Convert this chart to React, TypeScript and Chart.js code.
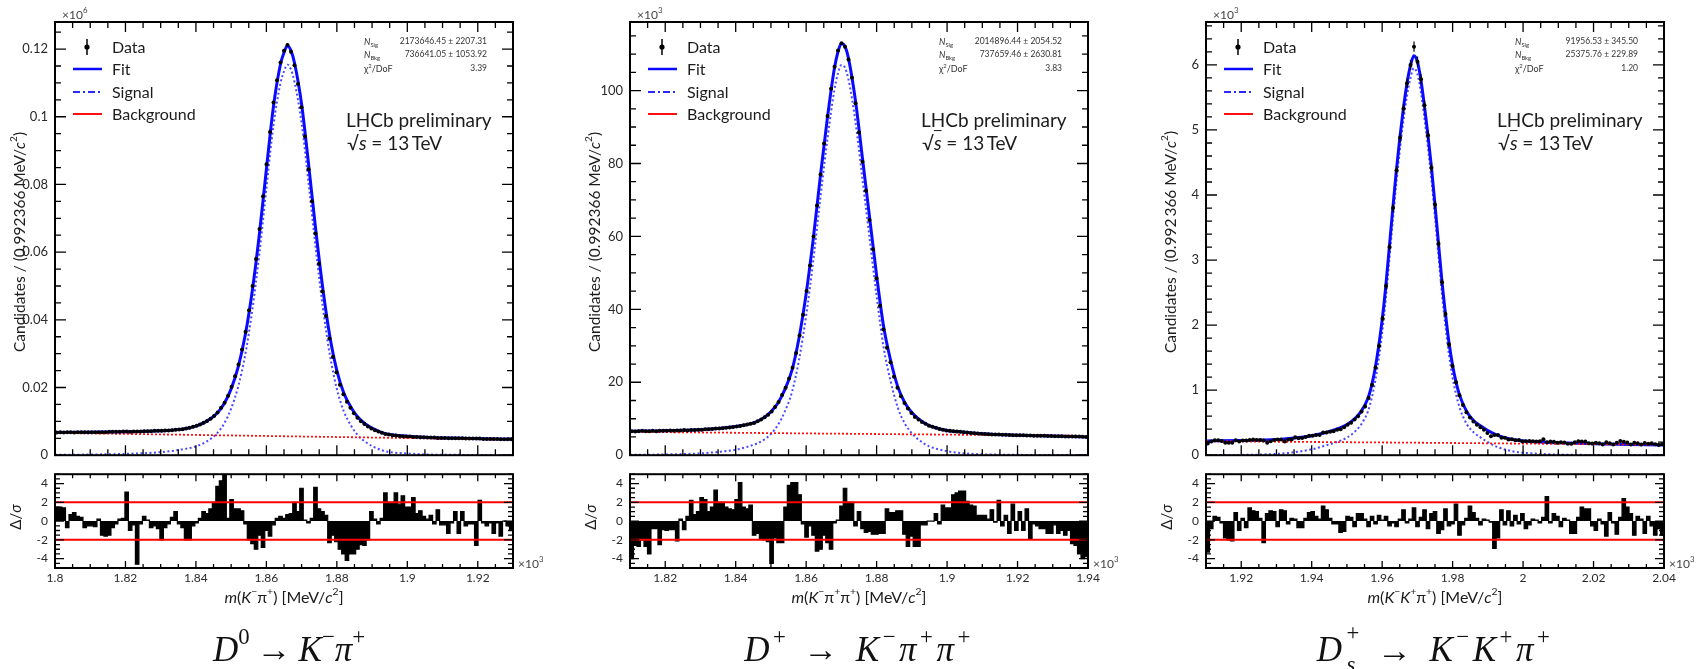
import React, { useEffect, useRef } from "react";
import { Chart, registerables } from "chart.js";

Chart.register(...registerables);

/* ====================== DATA ====================== */
const BIN_WIDTH = 0.992366; // MeV per bin
const PULL_LINES = [-2, 2];
const PULL_TICKS = [-4, -2, 0, 2, 4];
const PULL_RANGE = [-5, 5];

// ---- D0 -> K- pi+ ----
const D0_X_RANGE = [1800, 1930];
const D0_X_TICKS = [1800, 1820, 1840, 1860, 1880, 1900, 1920];
const D0_Y_TICKS = [0, 0.02, 0.04, 0.06, 0.08, 0.1, 0.12];
const D0_Y_MAX = 0.128;
const D0_DATA = [
  0.0067, 0.0068, 0.0067, 0.0068, 0.0068, 0.0067, 0.0068, 0.0068, 0.0068, 0.0068,
  0.0068, 0.0068, 0.0068, 0.0068, 0.0068, 0.0069, 0.0069, 0.0069, 0.0069, 0.007,
  0.007, 0.0069, 0.007, 0.007, 0.007, 0.0071, 0.0071, 0.0071, 0.0072, 0.0072,
  0.0072, 0.0073, 0.0073, 0.0074, 0.0075, 0.0076, 0.0077, 0.0079, 0.0081, 0.0084,
  0.0087, 0.0091, 0.0096, 0.0101, 0.0108, 0.0116, 0.0126, 0.014, 0.0155, 0.0176,
  0.0202, 0.0233, 0.0268, 0.0312, 0.0365, 0.0428, 0.05, 0.058, 0.0668, 0.0765,
  0.086, 0.0955, 0.1042, 0.1108, 0.116, 0.1195, 0.1212, 0.1192, 0.1152, 0.1097,
  0.1028, 0.0942, 0.0845, 0.075, 0.0655, 0.0566, 0.0484, 0.0411, 0.0345, 0.029,
  0.0245, 0.0208, 0.018, 0.0158, 0.014, 0.0124, 0.0111, 0.01, 0.0092, 0.0085,
  0.0079, 0.0074, 0.007, 0.0066, 0.0063, 0.0061, 0.0059, 0.0058, 0.0057, 0.0056,
  0.0055, 0.0055, 0.0054, 0.0054, 0.0053, 0.0053, 0.0052, 0.0052, 0.0052, 0.0051,
  0.0051, 0.0051, 0.005, 0.005, 0.005, 0.005, 0.005, 0.0049, 0.0049, 0.0049,
  0.0049, 0.0049, 0.0048, 0.0048, 0.0048, 0.0048, 0.0048, 0.0047, 0.0047, 0.0047, 0.0047,
];
const D0_CURVE_X = [
  1800, 1810, 1820, 1830, 1836, 1840, 1843, 1846, 1848, 1850,
  1852, 1854, 1856, 1858, 1860, 1862, 1864, 1865, 1866, 1867,
  1868, 1870, 1872, 1874, 1876, 1878, 1880, 1882, 1884, 1886,
  1888, 1890, 1893, 1896, 1900, 1906, 1915, 1930,
];
const D0_FIT_Y = [
  0.0067, 0.0068, 0.0069, 0.0072, 0.0077, 0.0086, 0.01, 0.0124, 0.0152, 0.0196,
  0.0261, 0.0355, 0.0486, 0.0652, 0.0845, 0.103, 0.1155, 0.119, 0.121, 0.1195,
  0.1158, 0.1037, 0.0858, 0.0667, 0.0494, 0.0352, 0.025, 0.0183, 0.0142, 0.0112,
  0.0093, 0.008, 0.0066, 0.006, 0.0056, 0.0052, 0.005, 0.0047,
];
const D0_SIG_Y = [
  0.0001, 0.0002, 0.0004, 0.0009, 0.0017, 0.0026, 0.004, 0.0065, 0.0093, 0.0138,
  0.0203, 0.0297, 0.0429, 0.0595, 0.0788, 0.0974, 0.1099, 0.1134, 0.1154, 0.1139,
  0.1102, 0.0981, 0.0802, 0.0612, 0.0439, 0.0297, 0.0196, 0.0129, 0.0088, 0.0058,
  0.004, 0.0027, 0.0014, 0.0008, 0.0005, 0.0002, 0.0001, 0.0,
];
const D0_BKG_X = [1800, 1865, 1930];
const D0_BKG_Y = [0.0066, 0.0056, 0.0046];
const D0_PULLS = [
  1.5, 1.5, 1.4, -0.7, 0.7, 0.9, 0.5, 0.4, -0.7, -0.5,
  -0.5, -0.6, 0.2, -1.5, -1.6, -1.5, -0.7, -0.3, 0.2, 0.3,
  3.1, -1.0, -0.4, -4.6, -0.3, 0.5, 0.1, -0.7, -0.5, -0.8,
  -2.0, -0.7, -0.3, 0.4, 1.0, -0.3, -0.7, -2.0, -2.0, -0.5,
  -0.2, 0.3, 1.0, 0.8, 1.3, 2.0, 3.7, 4.3, 5.0, 0.3,
  2.3, 1.3, 1.3, 1.1, -0.3, -2.0, -2.4, -3.0, -1.5, -2.8,
  -1.0, -1.6, -0.4, 0.3, 0.5, 0.3, 0.7, 0.8, 2.0, 1.0,
  3.5, 0.1, -0.2, 0.3, 3.6, 1.3, 1.0, 0.6, -2.3, -1.5,
  -2.2, -3.0, -3.5, -4.2, -3.5, -3.5, -3.0, -2.5, -2.6, -2.0,
  1.0, 0.2, -0.3, 0.3, 3.0, 2.0, 2.0, 3.0, 1.8, 2.7,
  1.5, 1.5, 2.5, 0.8, 1.1, 0.5, 0.2, 0.6, -0.3, 1.2,
  -0.4, -0.4, -1.3, -0.2, 1.0, -1.3, 1.0, -0.5, -0.3, -0.3,
  -2.6, 2.2, -0.2, -0.5, -0.2, -1.3, -0.2, -1.6, 0.0, -0.5, -1.0,
];
const D0_STATS = ["2173646.45 \u00b1 2207.31", "736641.05 \u00b1 1053.92", "3.39"];

// ---- D+ -> K- pi+ pi+ ----
const DP_X_RANGE = [1810, 1940];
const DP_X_TICKS = [1820, 1840, 1860, 1880, 1900, 1920, 1940];
const DP_Y_TICKS = [0, 20, 40, 60, 80, 100];
const DP_Y_MAX = 118.8;
const DP_DATA = [
  6.6, 6.5, 6.6, 6.7, 6.6, 6.6, 6.7, 6.6, 6.7, 6.7,
  6.7, 6.8, 6.7, 6.8, 6.8, 6.9, 6.8, 6.9, 6.9, 7.0,
  7.0, 7.1, 7.1, 7.2, 7.3, 7.3, 7.4, 7.5, 7.6, 7.7,
  7.9, 8.0, 8.2, 8.4, 8.6, 8.8, 9.3, 9.8, 10.4, 11.1,
  12.0, 13.2, 14.6, 16.5, 18.5, 21.0, 24.0, 28.0, 32.8, 38.5,
  45.0, 52.0, 60.0, 68.5, 77.0, 85.5, 93.0, 100.5, 106.5, 111.0,
  113.0, 112.0, 108.5, 103.5, 96.5, 88.5, 80.5, 72.5, 64.5, 56.5,
  48.5, 41.0, 34.5, 29.5, 25.5, 21.5, 18.5, 16.2, 14.3, 12.8,
  11.6, 10.5, 9.8, 9.1, 8.6, 8.1, 7.8, 7.5, 7.2, 7.0,
  6.8, 6.7, 6.6, 6.5, 6.4, 6.3, 6.2, 6.1, 6.0, 5.95,
  5.9, 5.8, 5.75, 5.7, 5.7, 5.65, 5.6, 5.6, 5.55, 5.5,
  5.5, 5.45, 5.45, 5.4, 5.4, 5.35, 5.35, 5.3, 5.3, 5.25,
  5.25, 5.2, 5.2, 5.2, 5.15, 5.15, 5.1, 5.1, 5.1, 5.05, 5.0,
];
const DP_FIT_X = [
  1810, 1820, 1830, 1835, 1840, 1843, 1846, 1848, 1850, 1852,
  1854, 1856, 1858, 1860, 1862, 1864, 1866, 1868, 1869, 1870,
  1871, 1872, 1874, 1876, 1878, 1880, 1882, 1884, 1886, 1888,
  1890, 1892, 1895, 1900, 1905, 1910, 1920, 1930, 1940,
];
const DP_FIT_Y = [
  6.6, 6.7, 7.0, 7.3, 7.85, 8.35, 9.2, 10.3, 11.9, 14.3,
  18.1, 23.4, 32.3, 44.3, 59.2, 76.2, 92.3, 106.0, 110.5, 112.9,
  112.1, 108.9, 97.2, 81.3, 65.3, 49.3, 35.2, 25.9, 18.8, 14.4,
  11.7, 9.9, 8.1, 6.8, 6.3, 5.9, 5.5, 5.25, 5.0,
];
const DP_SIG_X = [
  1810, 1820, 1830, 1835, 1840, 1843, 1846, 1848, 1850, 1852,
  1854, 1856, 1858, 1860, 1862, 1864, 1866, 1868, 1869, 1870,
  1871, 1872, 1874, 1876, 1878, 1880, 1882, 1884, 1886, 1888,
  1890, 1892, 1895, 1900, 1905, 1910, 1920, 1940,
];
const DP_SIG_Y = [
  0.1, 0.2, 0.5, 0.9, 1.5, 2.2, 3.2, 4.2, 5.8, 8.3,
  12.1, 17.4, 26.3, 38.3, 53.2, 70.2, 86.4, 100.1, 104.6, 107.0,
  106.3, 103.1, 91.4, 75.5, 59.5, 43.6, 29.5, 20.2, 13.1, 8.7,
  6.0, 4.2, 2.4, 1.1, 0.5, 0.25, 0.1, 0.0,
];
const DP_BKG_X = [1810, 1875, 1940];
const DP_BKG_Y = [6.4, 5.85, 5.3];
const DP_PULLS = [
  -4.0, -2.6, -2.7, -2.0, -2.7, -3.5, -0.8, -0.8, -2.5, -0.9,
  -1.0, -0.9, -0.9, -2.1, 0.2, -0.9, 0.5, 2.2, 0.7, 1.0,
  2.5, 2.3, 1.0, 1.5, 3.3, 2.0, 2.0, 1.5, 1.3, 1.2,
  2.3, 4.1, 1.5, 1.3, 1.7, -1.5, -1.3, -1.9, -2.0, -2.2,
  -4.5, -1.8, -2.3, -2.3, 1.5, 3.8, 4.1, 4.1, 2.8, -0.3,
  -1.7, -0.5, -1.5, -3.2, -3.0, -1.5, -2.3, -3.0, -0.2, 0.1,
  1.6, 3.5, 2.0, 2.0, -0.5, 1.0, -0.8, -1.2, -1.1, -1.4,
  -1.4, -1.3, -1.3, 1.3, 0.9, 0.9, 1.1, 1.1, -1.4, -2.7,
  -1.6, -2.7, -2.7, -0.4, -0.4, 0.0, 0.0, 0.8, -0.3, 1.7,
  1.4, 1.4, 2.8, 3.0, 3.2, 3.2, 2.1, 1.7, 1.6, 0.6,
  0.6, 0.6, 0.2, 1.2, -0.1, 2.2, -0.5, 0.6, -1.3, 1.8,
  -1.0, 1.0, -1.0, 1.3, -1.9, -0.3, -0.5, -0.8, -0.8, -1.3,
  -1.3, -0.4, -1.3, -1.0, -1.5, -1.0, -2.4, -2.6, -3.5, -4.0, -3.8,
];
const DP_STATS = ["2014896.44 \u00b1 2054.52", "737659.46 \u00b1 2630.81", "3.83"];

// ---- Ds+ -> K- K+ pi+ ----
const DS_X_RANGE = [1910, 2040];
const DS_X_TICKS = [1920, 1940, 1960, 1980, 2000, 2020, 2040];
const DS_Y_TICKS = [0, 1, 2, 3, 4, 5, 6];
const DS_Y_MAX = 6.66;
const DS_DATA = [
  0.18, 0.21, 0.23, 0.23, 0.22, 0.19, 0.19, 0.19, 0.23, 0.21,
  0.225, 0.225, 0.235, 0.24, 0.235, 0.235, 0.225, 0.19, 0.215, 0.235,
  0.24, 0.24, 0.21, 0.24, 0.24, 0.275, 0.26, 0.265, 0.28, 0.3,
  0.3, 0.31, 0.31, 0.35, 0.35, 0.36, 0.37, 0.39, 0.4, 0.43,
  0.47, 0.5, 0.55, 0.6, 0.67, 0.75, 0.88, 1.08, 1.35, 1.68,
  2.1, 2.6, 3.2, 3.8, 4.38, 4.88, 5.33, 5.72, 6.0, 6.28,
  6.05, 5.78, 5.38, 4.92, 4.42, 3.85, 3.25, 2.66, 2.17, 1.7,
  1.37, 1.12, 0.92, 0.77, 0.66, 0.58, 0.52, 0.47, 0.43, 0.39,
  0.34, 0.29, 0.31, 0.31, 0.27, 0.27, 0.24, 0.245, 0.23, 0.235,
  0.21, 0.215, 0.22, 0.215, 0.21, 0.215, 0.245, 0.2, 0.21, 0.205,
  0.19, 0.2, 0.195, 0.175, 0.175, 0.2, 0.215, 0.21, 0.21, 0.185,
  0.178, 0.19, 0.182, 0.165, 0.198, 0.183, 0.165, 0.19, 0.22, 0.205,
  0.195, 0.163, 0.19, 0.185, 0.165, 0.187, 0.175, 0.183, 0.168, 0.158, 0.168,
];
const DS_FIT_X = [
  1910, 1920, 1930, 1935, 1940, 1944, 1948, 1950, 1952, 1954,
  1956, 1957, 1958, 1959, 1960, 1961, 1962, 1963, 1964, 1965,
  1966, 1967, 1968, 1969, 1970, 1971, 1972, 1973, 1974, 1975,
  1976, 1977, 1978, 1979, 1980, 1981, 1982, 1984, 1986, 1988,
  1990, 1993, 1997, 2002, 2010, 2020, 2030, 2040,
];
const DS_FIT_Y = [
  0.22, 0.225, 0.24, 0.265, 0.3, 0.35, 0.42, 0.47, 0.55, 0.67,
  0.88, 1.07, 1.33, 1.67, 2.08, 2.58, 3.18, 3.78, 4.36, 4.87,
  5.32, 5.7, 5.98, 6.14, 6.05, 5.77, 5.37, 4.92, 4.42, 3.85,
  3.25, 2.66, 2.16, 1.72, 1.38, 1.12, 0.92, 0.67, 0.53, 0.45,
  0.38, 0.3, 0.24, 0.21, 0.19, 0.175, 0.165, 0.155,
];
const DS_SIG_X = [
  1910, 1930, 1940, 1944, 1948, 1950, 1952, 1954, 1956, 1957,
  1958, 1959, 1960, 1961, 1962, 1963, 1964, 1965, 1966, 1967,
  1968, 1969, 1970, 1971, 1972, 1973, 1974, 1975, 1976, 1977,
  1978, 1979, 1980, 1981, 1982, 1984, 1986, 1988, 1990, 1993,
  1997, 2002, 2010, 2040,
];
const DS_SIG_Y = [
  0.0, 0.02, 0.09, 0.15, 0.22, 0.27, 0.35, 0.47, 0.68, 0.87,
  1.13, 1.47, 1.88, 2.38, 2.98, 3.59, 4.17, 4.68, 5.13, 5.51,
  5.79, 5.95, 5.86, 5.58, 5.18, 4.73, 4.23, 3.66, 3.06, 2.47,
  1.97, 1.53, 1.19, 0.93, 0.73, 0.48, 0.35, 0.27, 0.2, 0.12,
  0.06, 0.03, 0.01, 0.0,
];
const DS_BKG_X = [1910, 1975, 2040];
const DS_BKG_Y = [0.215, 0.19, 0.16];
const DS_PULLS = [
  -3.3, -0.8, 0.5, 0.4, -0.2, -1.8, -2.0, -2.1, 0.9, -1.0,
  0.3, -0.7, 1.4, 1.1, 1.0, 0.3, -2.3, 0.8, 1.1, 1.0,
  -0.6, 1.2, 1.1, -0.3, 0.3, 0.2, -0.7, -0.7, 0.3, 0.9,
  1.0, 0.5, 0.2, 1.6, 1.2, 0.3, -0.3, -0.3, -1.2, -1.1,
  0.5, 0.4, -0.6, 0.8, 0.8, 0.2, -0.6, 0.5, -0.3, 0.6,
  0.1, 0.5, -0.5, -0.2, -0.6, 0.2, 1.2, -0.2, 0.2, 1.4,
  -0.6, 0.4, 1.2, -0.8, 0.8, 1.0, -1.3, -0.9, 1.3, -0.5,
  -0.3, 1.8, -1.5, -0.4, 0.3, 1.6, 0.9, 0.3, -0.4, 0.2,
  0.1, -0.1, -2.9, -1.8, 1.2, -0.4, 1.1, -0.5, 0.6, -0.3,
  0.8, -0.8, -0.4, 0.2, 0.1, -0.2, 0.4, 2.6, -0.2, 0.8,
  0.5, -0.6, 0.3, 0.1, -1.3, -1.3, 0.4, 1.5, 1.3, 1.3,
  -0.5, -1.0, 0.2, -0.3, -1.6, 0.9, -0.2, -1.4, 0.4, 2.4,
  1.5, 0.8, -1.5, 0.5, 0.2, -1.3, 0.5, -0.5, -1.5, -0.8, -1.5,
];
const DS_STATS = ["91956.53 \u00b1 345.50", "25375.76 \u00b1 229.89", "1.20"];

/* ====================== LAYOUT / STYLE ====================== */
const PANEL_W = 458;
const Y_AX_W = 60;
const PAD_R = 24;
const MAIN_PAD_TOP = 22;
const MAIN_CANVAS_H = 470;
const MAIN_PAD_BOTTOM = 14;
const RES_CANVAS_TOP = 460;
const RES_CANVAS_H = 135;
const RES_PAD_TOP = 7;
const RES_X_AX_H = 27;
const SANS = "Lato, 'Open Sans', 'DejaVu Sans', sans-serif";
const SERIF = "'Liberation Serif', 'DejaVu Serif', serif";
const TXT = "#1c1c1c";

const zip = (xs: number[], ys: number[]) => xs.map((x, i) => ({ x, y: ys[i] }));
const fmt = (v: number) => String(+Number(v).toFixed(4));

function makeFramePlugin(o: any) {
  return {
    id: "frameTicks",
    afterDatasetsDraw(chart: any) {
      const { ctx, chartArea: a, scales } = chart;
      const xs = scales.x;
      const ys = scales.y;
      const steps = (min: number, max: number, step: number) => {
        const out: number[] = [];
        const k0 = Math.ceil(min / step - 1e-9);
        for (let k = k0; k * step <= max + 1e-9; k++) out.push(k * step);
        return out;
      };
      ctx.save();
      ctx.strokeStyle = "#000";
      ctx.lineWidth = 1.3;
      ctx.beginPath();
      const vx = (v: number, len: number) => {
        const px = xs.getPixelForValue(v);
        ctx.moveTo(px, a.bottom);
        ctx.lineTo(px, a.bottom - len);
        ctx.moveTo(px, a.top);
        ctx.lineTo(px, a.top + len);
      };
      const hy = (v: number, len: number) => {
        const py = ys.getPixelForValue(v);
        ctx.moveTo(a.left, py);
        ctx.lineTo(a.left + len, py);
        ctx.moveTo(a.right, py);
        ctx.lineTo(a.right - len, py);
      };
      steps(xs.min, xs.max, o.xMinorStep).forEach((v) => vx(v, o.xMinorLen));
      o.xMajor.forEach((v: number) => vx(v, o.xMajorLen));
      steps(ys.min, ys.max, o.yMinorStep).forEach((v) => hy(v, o.yMinorLen));
      o.yMajor.forEach((v: number) => hy(v, o.yMajorLen));
      ctx.stroke();
      ctx.lineWidth = 2;
      ctx.strokeRect(a.left, a.top, a.right - a.left, a.bottom - a.top);
      ctx.restore();
    },
  };
}

const errorBarPlugin = {
  id: "errorBars",
  afterDatasetsDraw(chart: any) {
    const { ctx, chartArea: a } = chart;
    const ys = chart.scales.y;
    chart.data.datasets.forEach((ds: any, i: number) => {
      if (!ds.errUnit) return;
      const meta = chart.getDatasetMeta(i);
      ctx.save();
      ctx.beginPath();
      ctx.rect(a.left, a.top, a.right - a.left, a.bottom - a.top);
      ctx.clip();
      ctx.strokeStyle = "#000";
      ctx.lineWidth = 1.2;
      ctx.beginPath();
      meta.data.forEach((el: any, j: number) => {
        const v = ds.data[j].y;
        const e = Math.sqrt(v * ds.errUnit) / ds.errUnit;
        ctx.moveTo(el.x, ys.getPixelForValue(v + e));
        ctx.lineTo(el.x, ys.getPixelForValue(v - e));
      });
      ctx.stroke();
      ctx.restore();
    });
  },
};

function mainConfig(p: any): any {
  const dataPts = p.data.map((y: number, i: number) => ({ x: p.xRange[0] + (i + 0.5) * BIN_WIDTH, y }));
  return {
    type: "line",
    data: {
      datasets: [
        { label: "Data", data: dataPts, showLine: false, pointRadius: 2, pointHoverRadius: 2, pointBackgroundColor: "#000", pointBorderColor: "#000", pointBorderWidth: 0, order: 0, errUnit: p.unit },
        { label: "Background", data: zip(p.bkgX, p.bkgY), borderColor: "#ff1010", borderWidth: 1.8, borderDash: [2, 2], pointRadius: 0, order: 1 },
        { label: "Fit", data: zip(p.fitX, p.fitY), borderColor: "#0a0aff", borderWidth: 3, pointRadius: 0, cubicInterpolationMode: "monotone", order: 2 },
        { label: "Signal", data: zip(p.sigX, p.sigY), borderColor: "rgba(40,40,255,0.85)", borderWidth: 2, borderDash: [2, 2.5], pointRadius: 0, cubicInterpolationMode: "monotone", order: 3 },
      ],
    },
    options: {
      animation: false,
      responsive: false,
      events: [],
      layout: { padding: { left: 0, right: PAD_R, top: MAIN_PAD_TOP, bottom: MAIN_PAD_BOTTOM }, autoPadding: false },
      plugins: { legend: { display: false }, tooltip: { enabled: false } },
      scales: {
        x: { type: "linear", min: p.xRange[0], max: p.xRange[1], display: false },
        y: {
          type: "linear",
          min: 0,
          max: p.yMax,
          afterBuildTicks: (s: any) => { s.ticks = p.yTicks.map((v: number) => ({ value: v })); },
          afterFit: (s: any) => { s.width = Y_AX_W; },
          grid: { display: false, drawTicks: false },
          border: { display: false },
          ticks: { padding: 7, color: "#2a2a2a", font: { family: SANS, size: 13 }, callback: (v: number) => fmt(v) },
        },
      },
    },
    plugins: [errorBarPlugin, makeFramePlugin({ xMajor: p.xTicks, xMinorStep: 5, xMajorLen: 10, xMinorLen: 6, yMajor: p.yTicks, yMinorStep: p.yMinor, yMajorLen: 11, yMinorLen: 6 })],
  };
}

function resConfig(p: any): any {
  const steps = p.pulls.map((y: number, i: number) => ({ x: p.xRange[0] + i * BIN_WIDTH, y }));
  steps.push({ x: p.xRange[0] + p.pulls.length * BIN_WIDTH, y: p.pulls[p.pulls.length - 1] });
  const bands = PULL_LINES.map((v) => ({
    data: [{ x: p.xRange[0], y: v }, { x: p.xRange[1], y: v }],
    borderColor: "#ff0000", borderWidth: 2, pointRadius: 0, order: 0,
  }));
  return {
    type: "line",
    data: {
      datasets: [
        ...bands,
        { data: steps, stepped: "before", fill: "origin", backgroundColor: "#000", borderColor: "#000", borderWidth: 1.2, pointRadius: 0, order: 1 },
      ],
    },
    options: {
      animation: false,
      responsive: false,
      events: [],
      layout: { padding: { left: 0, right: PAD_R, top: RES_PAD_TOP, bottom: 0 }, autoPadding: false },
      plugins: { legend: { display: false }, tooltip: { enabled: false } },
      scales: {
        x: {
          type: "linear",
          min: p.xRange[0],
          max: p.xRange[1],
          afterBuildTicks: (s: any) => { s.ticks = p.xTicks.map((v: number) => ({ value: v })); },
          afterFit: (s: any) => { s.height = RES_X_AX_H; },
          grid: { display: false, drawTicks: false },
          border: { display: false },
          ticks: { padding: 3, autoSkip: false, maxRotation: 0, minRotation: 0, color: "#2a2a2a", font: { family: SANS, size: 12 }, callback: (v: number) => String(+(v / 1000).toFixed(3)) },
        },
        y: {
          type: "linear",
          min: PULL_RANGE[0],
          max: PULL_RANGE[1],
          afterBuildTicks: (s: any) => { s.ticks = PULL_TICKS.map((v) => ({ value: v })); },
          afterFit: (s: any) => { s.width = Y_AX_W; },
          grid: { display: false, drawTicks: false },
          border: { display: false },
          ticks: { padding: 7, color: "#2a2a2a", font: { family: SANS, size: 12 }, callback: (v: number) => fmt(v) },
        },
      },
    },
    plugins: [makeFramePlugin({ xMajor: p.xTicks, xMinorStep: 5, xMajorLen: 7, xMinorLen: 4, yMajor: PULL_TICKS, yMinorStep: 0.5, yMajorLen: 9, yMinorLen: 5 })],
  };
}

/* ====================== TEXT HELPERS ====================== */
const Sup = ({ children }: any) => (
  <span style={{ fontSize: "0.65em", position: "relative", top: "-0.75em" }}>{children}</span>
);
const Sub = ({ children }: any) => (
  <span style={{ fontSize: "0.65em", position: "relative", top: "0.4em" }}>{children}</span>
);

function Txt({ x, y, size, children, align = "left", family = SANS, rotate = false, color = TXT, style = {} }: any) {
  const tx = align === "left" ? "0" : align === "center" ? "-50%" : "-100%";
  return (
    <div
      style={{
        position: "absolute", left: x, top: y,
        transform: rotate ? "translate(-50%,-50%) rotate(-90deg)" : `translate(${tx},-50%)`,
        fontSize: size, fontFamily: family, whiteSpace: "nowrap", lineHeight: 1.15, color, ...style,
      }}
    >
      {children}
    </div>
  );
}

const LEGEND_ROWS = [47, 69, 92, 114];
const STAT_ROWS = [42, 55, 69];

function Panel({ p }: any) {
  const mainRef = useRef<HTMLCanvasElement>(null);
  const resRef = useRef<HTMLCanvasElement>(null);
  useEffect(() => {
    const c1 = new Chart(mainRef.current as any, mainConfig(p));
    const c2 = new Chart(resRef.current as any, resConfig(p));
    return () => { c1.destroy(); c2.destroy(); };
  }, [p]);
  const L = p.left;
  const R = p.left + PANEL_W;
  const cw = Y_AX_W + PANEL_W + PAD_R;
  return (
    <>
      <canvas ref={mainRef} width={cw} height={MAIN_CANVAS_H}
        style={{ position: "absolute", left: L - Y_AX_W, top: 0, width: cw, height: MAIN_CANVAS_H }} />
      <canvas ref={resRef} width={cw} height={RES_CANVAS_H}
        style={{ position: "absolute", left: L - Y_AX_W, top: RES_CANVAS_TOP, width: cw, height: RES_CANVAS_H }} />

      {/* exponent labels */}
      <Txt x={L + 7} y={15} size={12} color="#444">{"\u00d710"}<Sup>{p.exp}</Sup></Txt>
      <Txt x={R + 5} y={564} size={12} color="#444">{"\u00d710"}<Sup>3</Sup></Txt>

      {/* legend */}
      <svg width={40} height={100} style={{ position: "absolute", left: L + 15, top: 30 }}>
        <line x1={17} y1={LEGEND_ROWS[0] - 30 - 8} x2={17} y2={LEGEND_ROWS[0] - 30 + 8} stroke="#000" strokeWidth={1.5} />
        <circle cx={17} cy={LEGEND_ROWS[0] - 30} r={2.6} fill="#000" />
        <line x1={3} y1={LEGEND_ROWS[1] - 30} x2={32} y2={LEGEND_ROWS[1] - 30} stroke="#0a0aff" strokeWidth={2.5} />
        <line x1={3} y1={LEGEND_ROWS[2] - 30} x2={32} y2={LEGEND_ROWS[2] - 30} stroke="#2828ff" strokeWidth={2} strokeDasharray="7 3 2 3" />
        <line x1={3} y1={LEGEND_ROWS[3] - 30} x2={32} y2={LEGEND_ROWS[3] - 30} stroke="#ff1010" strokeWidth={2} />
      </svg>
      {["Data", "Fit", "Signal", "Background"].map((t, i) => (
        <Txt key={t} x={L + 57} y={LEGEND_ROWS[i]} size={16}>{t}</Txt>
      ))}

      {/* fit statistics */}
      <Txt x={R - 149} y={STAT_ROWS[0]} size={9} color="#333"><i>N</i><Sub>Sig</Sub></Txt>
      <Txt x={R - 149} y={STAT_ROWS[1]} size={9} color="#333"><i>N</i><Sub>Bkg</Sub></Txt>
      <Txt x={R - 149} y={STAT_ROWS[2]} size={9} color="#333">{"\u03c7"}<Sup>2</Sup>/DoF</Txt>
      {p.stats.map((s: string, i: number) => (
        <Txt key={i} x={R - 26} y={STAT_ROWS[i]} size={8.5} align="right" color="#333">{s}</Txt>
      ))}

      {/* LHCb label */}
      <Txt x={R - 167} y={120} size={19}>LHCb preliminary</Txt>
      <Txt x={R - 166} y={143} size={19}>
        {"\u221a"}<span style={{ textDecoration: "overline", fontStyle: "italic" }}>s</span>{" = 13\u2009TeV"}
      </Txt>

      {/* axis titles */}
      <Txt x={L - 35} y={242} size={15.5} rotate>
        {"Candidates / (" + p.binLabel + " MeV/"}<i>c</i><Sup>2</Sup>)
      </Txt>
      <Txt x={L - 39} y={517} size={15} rotate>
        {"\u0394/"}<i>{"\u03c3"}</i>
      </Txt>
      <Txt x={L + PANEL_W / 2} y={597} size={16} align="center">{p.xTitle}</Txt>

      {/* decay title */}
      <Txt x={L + PANEL_W / 2 + p.titleDx} y={650} size={35} align="center" family={SERIF} color="#111"
        style={{ letterSpacing: p.titleSpacing }}>{p.title}</Txt>
    </>
  );
}

const arrow = (m: string) => <span style={{ margin: `0 ${m}`, fontStyle: "normal" }}>{"\u2192"}</span>;

const PANELS = [
  {
    left: 55, xRange: D0_X_RANGE, xTicks: D0_X_TICKS, yTicks: D0_Y_TICKS, yMax: D0_Y_MAX, yMinor: 0.005, unit: 1e6, exp: "6",
    data: D0_DATA, fitX: D0_CURVE_X, fitY: D0_FIT_Y, sigX: D0_CURVE_X, sigY: D0_SIG_Y, bkgX: D0_BKG_X, bkgY: D0_BKG_Y, pulls: D0_PULLS,
    stats: D0_STATS, binLabel: "0.992366", titleDx: 5, titleSpacing: "0",
    xTitle: <><i>m</i>(<i>K</i><Sup>{"\u2212"}</Sup>{"\u03c0"}<Sup>+</Sup>) [MeV/<i>c</i><Sup>2</Sup>]</>,
    title: <><i>D</i><Sup>0</Sup>{arrow("0.2em")}<i>K</i><Sup>{"\u2212"}</Sup><i>{"\u03c0"}</i><Sup>+</Sup></>,
  },
  {
    left: 630, xRange: DP_X_RANGE, xTicks: DP_X_TICKS, yTicks: DP_Y_TICKS, yMax: DP_Y_MAX, yMinor: 5, unit: 1e3, exp: "3",
    data: DP_DATA, fitX: DP_FIT_X, fitY: DP_FIT_Y, sigX: DP_SIG_X, sigY: DP_SIG_Y, bkgX: DP_BKG_X, bkgY: DP_BKG_Y, pulls: DP_PULLS,
    stats: DP_STATS, binLabel: "0.992366", titleDx: 0, titleSpacing: "0.1em",
    xTitle: <><i>m</i>(<i>K</i><Sup>{"\u2212"}</Sup>{"\u03c0"}<Sup>+</Sup>{"\u03c0"}<Sup>+</Sup>) [MeV/<i>c</i><Sup>2</Sup>]</>,
    title: <><i>D</i><Sup>+</Sup>{arrow("0.4em")}<i>K</i><Sup>{"\u2212"}</Sup><i>{"\u03c0"}</i><Sup>+</Sup><i>{"\u03c0"}</i><Sup>+</Sup></>,
  },
  {
    left: 1206, xRange: DS_X_RANGE, xTicks: DS_X_TICKS, yTicks: DS_Y_TICKS, yMax: DS_Y_MAX, yMinor: 0.2, unit: 1e3, exp: "3",
    data: DS_DATA, fitX: DS_FIT_X, fitY: DS_FIT_Y, sigX: DS_SIG_X, sigY: DS_SIG_Y, bkgX: DS_BKG_X, bkgY: DS_BKG_Y, pulls: DS_PULLS,
    stats: DS_STATS, binLabel: "0.992\u2009366", titleDx: 0, titleSpacing: "0.1em",
    xTitle: <><i>m</i>(<i>K</i><Sup>{"\u2212"}</Sup><i>K</i><Sup>+</Sup>{"\u03c0"}<Sup>+</Sup>) [MeV/<i>c</i><Sup>2</Sup>]</>,
    title: (
      <>
        <i>D</i>
        <span style={{ display: "inline-block", position: "relative", width: "0.5em", height: "0.9em" }}>
          <span style={{ position: "absolute", left: "0.05em", top: "-0.45em", fontSize: "0.65em" }}>+</span>
          <span style={{ position: "absolute", left: "0.05em", bottom: "-0.75em", fontSize: "0.65em", fontStyle: "italic" }}>s</span>
        </span>
        {arrow("0.4em")}<i>K</i><Sup>{"\u2212"}</Sup><i>K</i><Sup>+</Sup><i>{"\u03c0"}</i><Sup>+</Sup>
      </>
    ),
  },
];

export default function App() {
  return (
    <div style={{ position: "absolute", left: 0, top: 0, width: 1706, height: 669, overflow: "hidden", background: "#fff" }}>
      {PANELS.map((p, i) => (
        <Panel key={i} p={p} />
      ))}
    </div>
  );
}
